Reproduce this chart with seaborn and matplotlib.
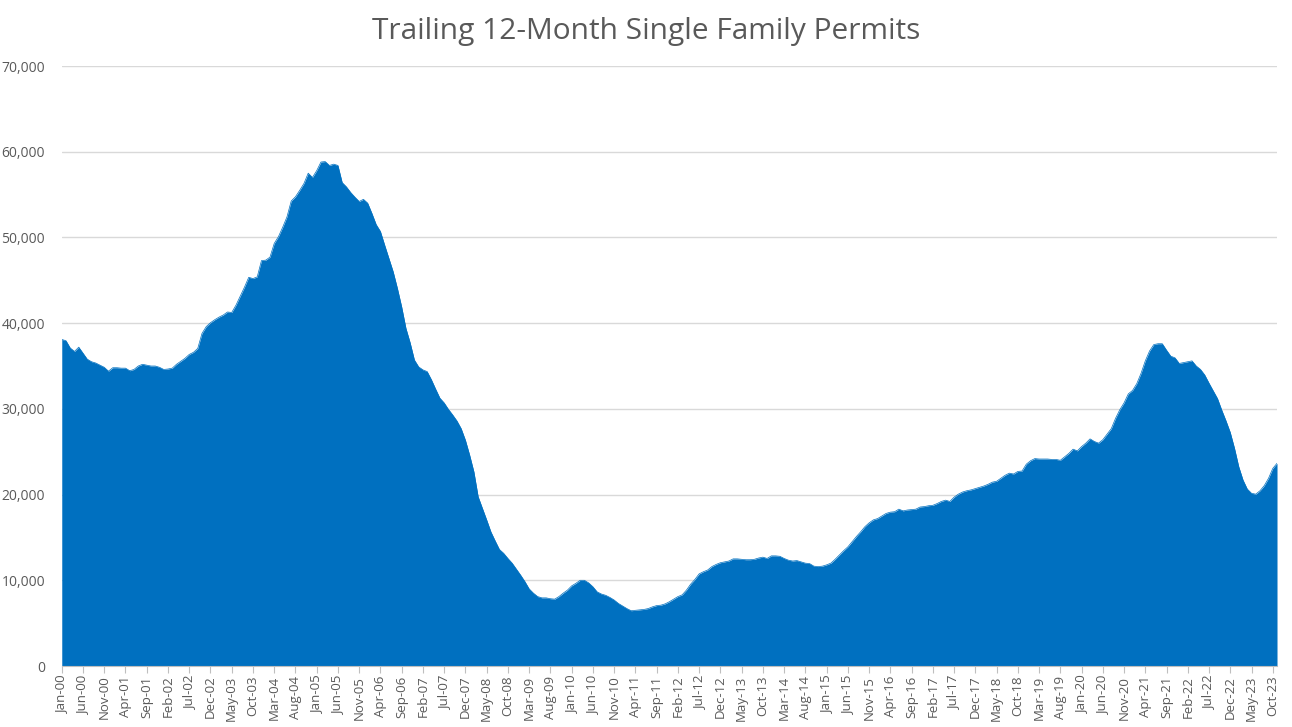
import numpy as np
import pandas as pd
import matplotlib
matplotlib.use("Agg")
import matplotlib.pyplot as plt
import seaborn as sns
from matplotlib.ticker import FuncFormatter, MultipleLocator

# ---- data (thousands of permits, trailing 12 months), Jan-2000 .. Nov-2023 ----
start_month = "2000-01"
n_months = 287
permits_k = [
    38.1, 37.95, 37.1, 36.7, 37.2, 36.5, 35.8, 35.5, 35.35, 35.1, 34.85, 34.4,
    34.8, 34.8, 34.75, 34.75, 34.45, 34.6, 35.0, 35.2, 35.1, 35.0, 35.0, 34.85,
    34.6, 34.65, 34.75, 35.2, 35.55, 35.9, 36.35, 36.6, 37.05, 38.8, 39.6, 40.05,
    40.4, 40.7, 40.95, 41.3, 41.25, 42.1, 43.15, 44.2, 45.35, 45.2, 45.4, 47.3,
    47.35, 47.7, 49.3, 50.1, 51.2, 52.4, 54.25, 54.75, 55.5, 56.3, 57.5, 57.0,
    57.8, 58.8, 58.85, 58.4, 58.55, 58.4, 56.4, 55.9, 55.25, 54.7, 54.2, 54.45,
    54.0, 52.8, 51.5, 50.7, 49.1, 47.55, 46.0, 44.05, 41.9, 39.4, 37.7, 35.7,
    34.9, 34.55, 34.35, 33.4, 32.3, 31.25, 30.7, 29.95, 29.3, 28.6, 27.7, 26.35,
    24.6, 22.65, 19.75, 18.4, 17.05, 15.65, 14.6, 13.6, 13.15, 12.55, 12.0, 11.3,
    10.6, 9.85, 9.0, 8.5, 8.1, 7.95, 7.95, 7.85, 7.8, 8.1, 8.5, 8.85,
    9.35, 9.65, 10.0, 10.0, 9.7, 9.25, 8.65, 8.4, 8.25, 8.0, 7.7, 7.3,
    7.0, 6.7, 6.45, 6.5, 6.55, 6.6, 6.7, 6.9, 7.05, 7.1, 7.25, 7.5,
    7.8, 8.1, 8.3, 8.85, 9.55, 10.1, 10.75, 11.0, 11.2, 11.6, 11.85, 12.05,
    12.15, 12.25, 12.5, 12.5, 12.45, 12.4, 12.4, 12.45, 12.6, 12.7, 12.55, 12.85,
    12.85, 12.8, 12.55, 12.35, 12.25, 12.3, 12.15, 12.0, 11.95, 11.65, 11.6, 11.65,
    11.8, 12.0, 12.45, 12.95, 13.45, 13.9, 14.5, 15.1, 15.65, 16.25, 16.7, 17.05,
    17.2, 17.5, 17.8, 17.95, 18.0, 18.3, 18.1, 18.2, 18.25, 18.3, 18.55, 18.6,
    18.7, 18.75, 18.95, 19.2, 19.35, 19.2, 19.7, 20.05, 20.3, 20.45, 20.55, 20.7,
    20.85, 21.0, 21.2, 21.45, 21.55, 21.9, 22.25, 22.5, 22.4, 22.7, 22.75, 23.55,
    23.95, 24.2, 24.15, 24.15, 24.15, 24.1, 24.1, 24.0, 24.4, 24.8, 25.3, 25.1,
    25.6, 26.0, 26.5, 26.2, 26.0, 26.4, 27.05, 27.7, 28.9, 29.9, 30.7, 31.75,
    32.15, 32.95, 34.15, 35.6, 36.75, 37.5, 37.6, 37.6, 36.85, 36.15, 35.95, 35.3,
    35.4, 35.5, 35.6, 35.0, 34.6, 33.95, 33.0, 32.1, 31.2, 29.85, 28.6, 27.25,
    25.4, 23.25, 21.7, 20.65, 20.15, 20.05, 20.45, 21.05, 21.9, 23.05, 23.65,
]
month_labels = list(pd.date_range(start_month, periods=n_months, freq="MS").strftime("%b-%y"))
title_text = "Trailing 12-Month Single Family Permits"

df = pd.DataFrame({
    "idx": np.arange(len(permits_k)),
    "month": month_labels[:len(permits_k)],
    "permits": np.array(permits_k) * 1000.0,
})

sns.set_theme(style="white")
plt.rcParams["font.family"] = ["Open Sans", "DejaVu Sans"]

fig = plt.figure(figsize=(12.92, 7.27), dpi=100)
ax = fig.add_axes([0.0478, 0.0839, 0.9406, 0.8253])

fill_color = "#0070C0"
ax.fill_between(df["idx"], 0, df["permits"], color=fill_color, linewidth=0, zorder=2)
sns.lineplot(data=df, x="idx", y="permits", ax=ax, color=fill_color, linewidth=0.5, zorder=3)

ax.set_xlim(0, len(permits_k) - 1)
ax.set_ylim(0, 70000)
ax.yaxis.set_major_locator(MultipleLocator(10000))
ax.yaxis.set_major_formatter(FuncFormatter(lambda v, p: f"{int(v):,}"))
ax.grid(axis="y", color="#D9D9D9", linewidth=1.0, zorder=0)
ax.grid(axis="x", visible=False)
ax.set_axisbelow(True)

tick_pos = list(range(0, len(permits_k), 5))
ax.set_xticks(tick_pos)
ax.set_xticklabels([month_labels[i] for i in tick_pos], rotation=90)

text_grey = "#595959"
ax.tick_params(axis="x", which="major", length=5, width=0.8, color="#BFBFBF",
               labelsize=9.5, labelcolor=text_grey, pad=2, bottom=True)
ax.tick_params(axis="y", length=0, labelsize=10, labelcolor=text_grey, pad=12)

for s in ["top", "right", "left"]:
    ax.spines[s].set_visible(False)
ax.spines["bottom"].set_color("#BFBFBF")
ax.spines["bottom"].set_linewidth(0.8)
ax.set_xlabel("")
ax.set_ylabel("")

fig.text(0.5, 0.956, title_text, ha="center", va="center", fontsize=21.5, color=text_grey)

fig.savefig("out.png", dpi=100)
